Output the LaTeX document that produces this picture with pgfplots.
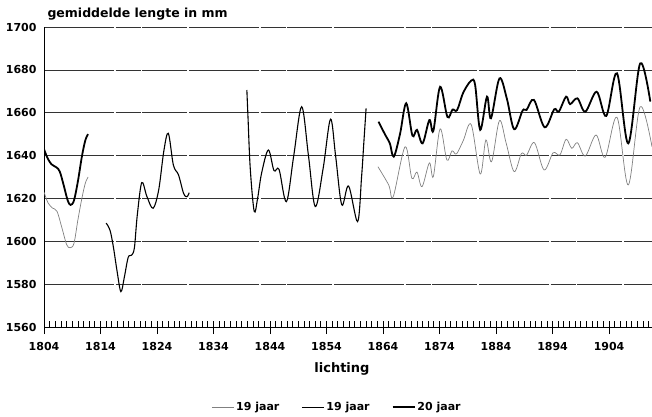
\documentclass[border=0pt]{standalone}
\usepackage{fontspec}
\setmainfont{DejaVu Sans}
\usepackage{pgfplots}
\pgfplotsset{compat=1.18}
\begin{document}
\begin{tikzpicture}
\begin{axis}[
 name=ax, at={(0,0)}, anchor=south west,
 scale only axis, width=608pt, height=300pt,
 xmin=1804, xmax=1911.6, ymin=1560, ymax=1700,
 axis lines*=left,
 axis line style={line width=1pt, black},
 xtick={1804,1814,...,1904},
 ytick={1560,1580,...,1700},
 /pgf/number format/1000 sep={},
 /pgf/number format/assume math mode=true,
 tick label style={font=\fontsize{11}{13}\selectfont\bfseries},
 xticklabel style={yshift=-5pt},
 yticklabel style={xshift=3pt},
 tick align=outside, major tick length=7pt,
 xtick style={line width=0.8pt, black},
 ytick style={draw=none},
 ymajorgrids,
 grid style={black!80, line width=0.6pt, dash pattern=on 70pt off 1.5pt on 25pt off 1.5pt on 45pt off 2pt},
 extra x ticks={1804,1805,...,1911},
 extra x tick labels={},
 extra x tick style={tick align=inside, major tick length=6pt, grid=none},
 xlabel={lichting},
 xlabel style={font=\fontsize{13}{15}\selectfont\bfseries, at={(axis description cs:0.49,-0.14)}, anchor=center},
 legend columns=3,
 legend style={at={(0.482,-0.267)}, anchor=center, draw=none, fill=none,
   font=\fontsize{11}{13}\selectfont\bfseries,
   /tikz/every even column/.append style={column sep=20pt}},
 legend image code/.code={\draw[#1] (0pt,0pt) -- (22pt,0pt);},
]
% grey 19 jaar (left)
\addplot[black!50, line width=0.7pt, smooth, tension=0.55] coordinates {
(1804,1623) (1804.7,1618) (1805.5,1615.5) (1806.3,1614) (1807.2,1606) (1808,1598.5) (1808.6,1597) (1809.3,1599) (1810,1610) (1810.7,1620) (1811.3,1627) (1811.8,1630)};
\addlegendentry{19 jaar}
% medium 19 jaar 1815-1830
\addplot[black, line width=1.1pt, smooth, tension=0.55] coordinates {
(1815,1608.5) (1815.7,1605) (1816.3,1597) (1816.9,1586.6) (1817.6,1576.5) (1818.2,1583) (1818.9,1592.5) (1819.5,1593.5) (1820,1597) (1820.5,1612) (1821.3,1627.4) (1822.2,1621) (1823.3,1615.4) (1824.3,1624) (1825.2,1642) (1826,1650.4) (1826.9,1635.5) (1827.8,1631) (1828.7,1622.4) (1829.3,1620.8) (1829.7,1622.7)};
\addlegendentry{19 jaar}
% thick 20 jaar (left)
\addplot[black, line width=1.8pt, smooth, tension=0.55] coordinates {
(1804,1643) (1804.6,1639) (1805.3,1636) (1806.2,1634.5) (1806.8,1632.5) (1807.5,1626) (1808.2,1619) (1808.7,1617) (1809.3,1619) (1810,1628) (1810.7,1639.5) (1811.3,1647) (1811.8,1650)};
\addlegendentry{20 jaar}
% medium 19 jaar 1840-1861
\addplot[black, line width=1.1pt, smooth, tension=0.55, forget plot] coordinates {
(1839.9,1670.6) (1840.1,1658) (1840.5,1634) (1841.2,1614) (1841.8,1620) (1842.5,1631.7) (1843.7,1642.6) (1844.7,1633) (1845.6,1633.5) (1846.9,1618.5) (1848.2,1640) (1849.6,1662.8) (1850.8,1640) (1852,1616.2) (1853.4,1634) (1854.7,1657) (1855.6,1640) (1856.7,1617) (1857.9,1625.8) (1859.5,1609.2) (1860.2,1630) (1860.6,1646) (1861,1662)};
% thick 20 jaar (right)
\addplot[black, line width=1.8pt, smooth, tension=0.55, forget plot] coordinates {
(1863.2,1655.8) (1864.4,1649.6) (1865.2,1645.7) (1865.9,1639.5) (1867,1650) (1868.1,1664.4) (1869.2,1649.3) (1870,1652) (1871,1645.7) (1872.2,1656.6) (1872.9,1651.5) (1874.1,1672.1) (1875.4,1658) (1876.3,1661.5) (1877.1,1661.2) (1878.2,1669.4) (1879.6,1675) (1880.3,1672.9) (1881.2,1652) (1882.4,1667.5) (1883.1,1657.4) (1884.6,1676) (1885.9,1666.7) (1887.2,1652.3) (1888.7,1661) (1889.4,1661.3) (1890.7,1666) (1892.6,1653.2) (1894.3,1661.6) (1895.1,1660.5) (1896.4,1667.5) (1897.1,1664) (1898.4,1666.7) (1899.8,1660.5) (1901.8,1669.8) (1903.5,1658.5) (1905.4,1678.4) (1907.4,1645.7) (1909.5,1683) (1911.3,1665.2)};
% grey 19 jaar (right)
\addplot[black!50, line width=0.7pt, smooth, tension=0.55, forget plot] coordinates {
(1863.1,1634.8) (1865,1626.3) (1865.8,1620.8) (1867.9,1644.1) (1869.1,1629.4) (1870,1632.3) (1870.9,1625.5) (1872.2,1636.6) (1872.9,1630.2) (1874.1,1652.5) (1875.3,1637.9) (1876.2,1642.2) (1877,1640.8) (1878.2,1647) (1879.6,1654.5) (1881.2,1631.4) (1882.2,1647.3) (1883.2,1637.1) (1884.6,1656.3) (1885.8,1645.7) (1887.2,1632.5) (1888.5,1641) (1889.4,1640.2) (1890.8,1646) (1892.5,1633.3) (1894.1,1641.3) (1895.3,1640.3) (1896.4,1647.6) (1897.4,1643.4) (1898.4,1646) (1899.8,1639.8) (1901.7,1649.6) (1903.3,1639.2) (1905.4,1657.9) (1907.4,1626.3) (1909.5,1662.8) (1911.6,1644.1)};
\end{axis}
\node[anchor=base west, font=\fontsize{12.5}{15}\selectfont\bfseries] at ([xshift=0pt,yshift=10pt]ax.north west) {gemiddelde lengte in mm};
\pgfresetboundingbox
\path (-44pt,-89pt) rectangle (608pt,327pt);
\end{tikzpicture}
\end{document}
